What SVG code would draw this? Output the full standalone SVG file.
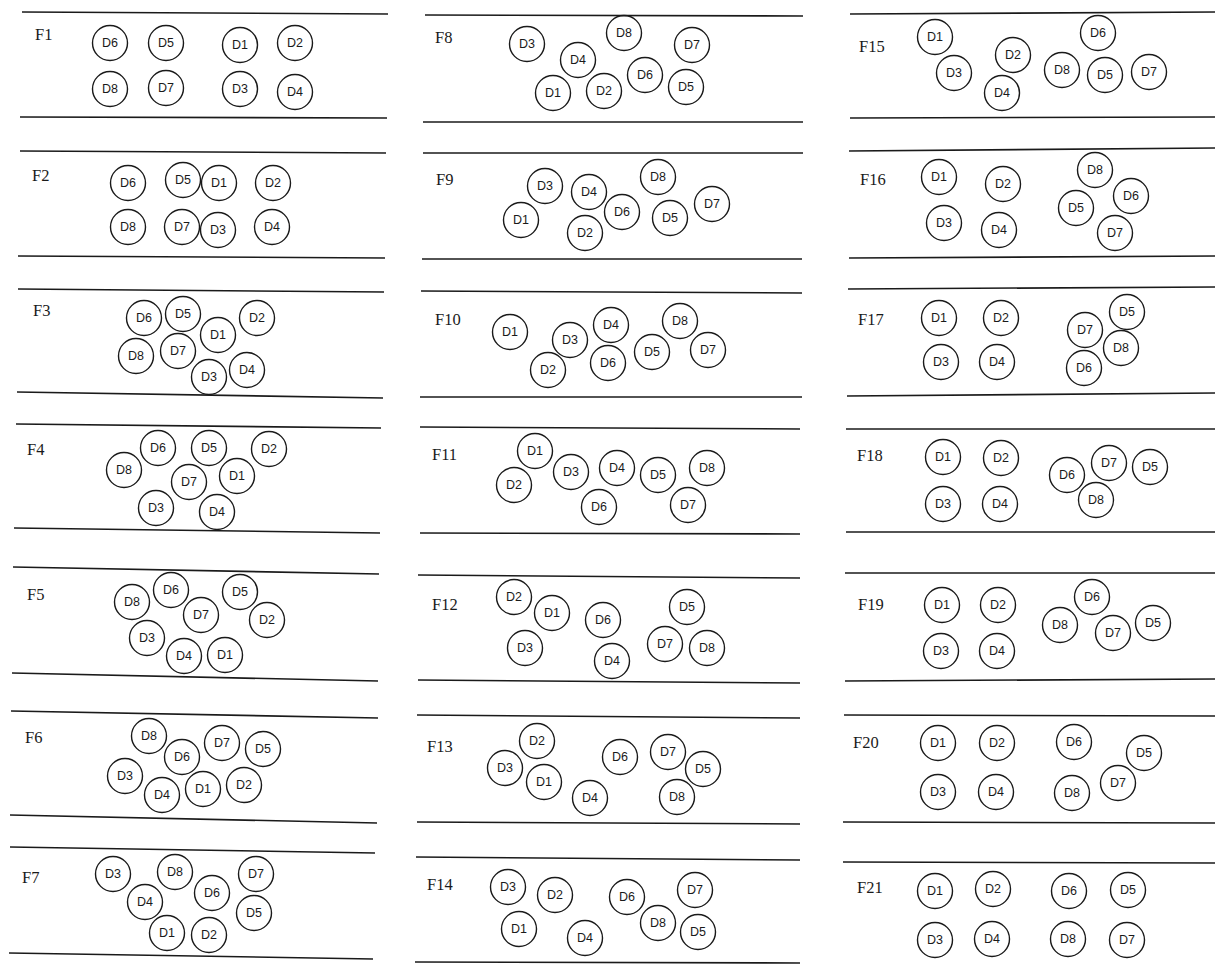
<svg xmlns="http://www.w3.org/2000/svg" width="1215" height="965" viewBox="0 0 1215 965">
<style>
.bg{fill:#fff}
.ln{stroke:#1a1a1a;stroke-width:1.6;fill:none}
circle{fill:none;stroke:#1a1a1a;stroke-width:1.4}
.d{font-family:"Liberation Sans",Arial,sans-serif;font-size:12.5px;text-anchor:middle;dominant-baseline:central;fill:#1a1a1a}
.f{font-family:"Liberation Serif","Times New Roman",serif;font-size:16.5px;fill:#1a1a1a}
</style>
<rect class="bg" x="0" y="0" width="1215" height="965"/>
<g id="lines">
<line class="ln" x1="22" y1="12" x2="388" y2="14"/>
<line class="ln" x1="20" y1="117" x2="387" y2="118"/>
<line class="ln" x1="20" y1="151" x2="386" y2="153"/>
<line class="ln" x1="18" y1="256" x2="385" y2="258"/>
<line class="ln" x1="18" y1="289" x2="384" y2="292"/>
<line class="ln" x1="17" y1="392" x2="383" y2="398"/>
<line class="ln" x1="16" y1="424" x2="381" y2="428"/>
<line class="ln" x1="14" y1="528" x2="380" y2="533"/>
<line class="ln" x1="13" y1="567" x2="379" y2="574"/>
<line class="ln" x1="12" y1="673" x2="378" y2="681"/>
<line class="ln" x1="11" y1="711" x2="378" y2="718"/>
<line class="ln" x1="10" y1="815" x2="377" y2="823"/>
<line class="ln" x1="10" y1="847" x2="375" y2="853"/>
<line class="ln" x1="9" y1="953" x2="373" y2="959"/>
<line class="ln" x1="425" y1="15" x2="803" y2="16"/>
<line class="ln" x1="423" y1="122" x2="803" y2="122"/>
<line class="ln" x1="423" y1="153" x2="803" y2="153"/>
<line class="ln" x1="422" y1="259" x2="802" y2="259"/>
<line class="ln" x1="421" y1="291" x2="802" y2="293"/>
<line class="ln" x1="420" y1="397" x2="802" y2="397"/>
<line class="ln" x1="420" y1="427" x2="800" y2="429"/>
<line class="ln" x1="420" y1="533" x2="800" y2="534"/>
<line class="ln" x1="418" y1="575" x2="800" y2="578"/>
<line class="ln" x1="418" y1="680" x2="800" y2="683"/>
<line class="ln" x1="417" y1="715" x2="800" y2="718"/>
<line class="ln" x1="417" y1="822" x2="800" y2="824"/>
<line class="ln" x1="416" y1="857" x2="800" y2="860"/>
<line class="ln" x1="415" y1="962" x2="800" y2="963"/>
<line class="ln" x1="850" y1="14" x2="1215" y2="12"/>
<line class="ln" x1="850" y1="118" x2="1215" y2="117"/>
<line class="ln" x1="849" y1="151" x2="1215" y2="148"/>
<line class="ln" x1="849" y1="258" x2="1215" y2="256"/>
<line class="ln" x1="848" y1="289" x2="1215" y2="287"/>
<line class="ln" x1="847" y1="396" x2="1215" y2="393"/>
<line class="ln" x1="846" y1="429" x2="1215" y2="429"/>
<line class="ln" x1="846" y1="532" x2="1215" y2="532"/>
<line class="ln" x1="845" y1="573" x2="1215" y2="573"/>
<line class="ln" x1="845" y1="681" x2="1215" y2="679"/>
<line class="ln" x1="844" y1="715" x2="1215" y2="716"/>
<line class="ln" x1="843" y1="822" x2="1215" y2="823"/>
<line class="ln" x1="843" y1="862" x2="1215" y2="863"/>
</g>
<g id="F1"><text class="f" x="35" y="40">F1</text>
<g id="F1-D6"><circle cx="110" cy="43" r="17.5"/><text class="d" x="110" y="43">D6</text></g>
<g id="F1-D5"><circle cx="166" cy="43" r="17.5"/><text class="d" x="166" y="43">D5</text></g>
<g id="F1-D1"><circle cx="240" cy="45" r="17.5"/><text class="d" x="240" y="45">D1</text></g>
<g id="F1-D2"><circle cx="295" cy="43" r="17.5"/><text class="d" x="295" y="43">D2</text></g>
<g id="F1-D8"><circle cx="110" cy="89" r="17.5"/><text class="d" x="110" y="89">D8</text></g>
<g id="F1-D7"><circle cx="166" cy="88" r="17.5"/><text class="d" x="166" y="88">D7</text></g>
<g id="F1-D3"><circle cx="240" cy="89" r="17.5"/><text class="d" x="240" y="89">D3</text></g>
<g id="F1-D4"><circle cx="295" cy="92" r="17.5"/><text class="d" x="295" y="92">D4</text></g>
</g>
<g id="F2"><text class="f" x="32" y="181">F2</text>
<g id="F2-D6"><circle cx="128" cy="183" r="17.5"/><text class="d" x="128" y="183">D6</text></g>
<g id="F2-D5"><circle cx="183" cy="180" r="17.5"/><text class="d" x="183" y="180">D5</text></g>
<g id="F2-D1"><circle cx="219" cy="183" r="17.5"/><text class="d" x="219" y="183">D1</text></g>
<g id="F2-D2"><circle cx="273" cy="183" r="17.5"/><text class="d" x="273" y="183">D2</text></g>
<g id="F2-D8"><circle cx="128" cy="227" r="17.5"/><text class="d" x="128" y="227">D8</text></g>
<g id="F2-D7"><circle cx="182" cy="227" r="17.5"/><text class="d" x="182" y="227">D7</text></g>
<g id="F2-D3"><circle cx="218" cy="230" r="17.5"/><text class="d" x="218" y="230">D3</text></g>
<g id="F2-D4"><circle cx="272" cy="227" r="17.5"/><text class="d" x="272" y="227">D4</text></g>
</g>
<g id="F3"><text class="f" x="33" y="316">F3</text>
<g id="F3-D6"><circle cx="144" cy="318" r="17.5"/><text class="d" x="144" y="318">D6</text></g>
<g id="F3-D5"><circle cx="183" cy="314" r="17.5"/><text class="d" x="183" y="314">D5</text></g>
<g id="F3-D1"><circle cx="218" cy="335" r="17.5"/><text class="d" x="218" y="335">D1</text></g>
<g id="F3-D2"><circle cx="257" cy="318" r="17.5"/><text class="d" x="257" y="318">D2</text></g>
<g id="F3-D8"><circle cx="136" cy="356" r="17.5"/><text class="d" x="136" y="356">D8</text></g>
<g id="F3-D7"><circle cx="178" cy="351" r="17.5"/><text class="d" x="178" y="351">D7</text></g>
<g id="F3-D3"><circle cx="209" cy="377" r="17.5"/><text class="d" x="209" y="377">D3</text></g>
<g id="F3-D4"><circle cx="247" cy="370" r="17.5"/><text class="d" x="247" y="370">D4</text></g>
</g>
<g id="F4"><text class="f" x="27" y="455">F4</text>
<g id="F4-D6"><circle cx="158" cy="448" r="17.5"/><text class="d" x="158" y="448">D6</text></g>
<g id="F4-D5"><circle cx="209" cy="448" r="17.5"/><text class="d" x="209" y="448">D5</text></g>
<g id="F4-D2"><circle cx="269" cy="449" r="17.5"/><text class="d" x="269" y="449">D2</text></g>
<g id="F4-D8"><circle cx="124" cy="470" r="17.5"/><text class="d" x="124" y="470">D8</text></g>
<g id="F4-D7"><circle cx="189" cy="482" r="17.5"/><text class="d" x="189" y="482">D7</text></g>
<g id="F4-D1"><circle cx="237" cy="476" r="17.5"/><text class="d" x="237" y="476">D1</text></g>
<g id="F4-D3"><circle cx="156" cy="508" r="17.5"/><text class="d" x="156" y="508">D3</text></g>
<g id="F4-D4"><circle cx="217" cy="512" r="17.5"/><text class="d" x="217" y="512">D4</text></g>
</g>
<g id="F5"><text class="f" x="27" y="600">F5</text>
<g id="F5-D8"><circle cx="132" cy="602" r="17.5"/><text class="d" x="132" y="602">D8</text></g>
<g id="F5-D6"><circle cx="171" cy="590" r="17.5"/><text class="d" x="171" y="590">D6</text></g>
<g id="F5-D7"><circle cx="201" cy="615" r="17.5"/><text class="d" x="201" y="615">D7</text></g>
<g id="F5-D5"><circle cx="240" cy="592" r="17.5"/><text class="d" x="240" y="592">D5</text></g>
<g id="F5-D2"><circle cx="267" cy="620" r="17.5"/><text class="d" x="267" y="620">D2</text></g>
<g id="F5-D3"><circle cx="147" cy="638" r="17.5"/><text class="d" x="147" y="638">D3</text></g>
<g id="F5-D4"><circle cx="184" cy="656" r="17.5"/><text class="d" x="184" y="656">D4</text></g>
<g id="F5-D1"><circle cx="225" cy="655" r="17.5"/><text class="d" x="225" y="655">D1</text></g>
</g>
<g id="F6"><text class="f" x="25" y="743">F6</text>
<g id="F6-D8"><circle cx="149" cy="736" r="17.5"/><text class="d" x="149" y="736">D8</text></g>
<g id="F6-D6"><circle cx="182" cy="757" r="17.5"/><text class="d" x="182" y="757">D6</text></g>
<g id="F6-D7"><circle cx="222" cy="743" r="17.5"/><text class="d" x="222" y="743">D7</text></g>
<g id="F6-D5"><circle cx="263" cy="749" r="17.5"/><text class="d" x="263" y="749">D5</text></g>
<g id="F6-D3"><circle cx="125" cy="776" r="17.5"/><text class="d" x="125" y="776">D3</text></g>
<g id="F6-D4"><circle cx="162" cy="795" r="17.5"/><text class="d" x="162" y="795">D4</text></g>
<g id="F6-D1"><circle cx="203" cy="789" r="17.5"/><text class="d" x="203" y="789">D1</text></g>
<g id="F6-D2"><circle cx="244" cy="785" r="17.5"/><text class="d" x="244" y="785">D2</text></g>
</g>
<g id="F7"><text class="f" x="22" y="883">F7</text>
<g id="F7-D3"><circle cx="113" cy="874" r="17.5"/><text class="d" x="113" y="874">D3</text></g>
<g id="F7-D8"><circle cx="175" cy="872" r="17.5"/><text class="d" x="175" y="872">D8</text></g>
<g id="F7-D7"><circle cx="256" cy="874" r="17.5"/><text class="d" x="256" y="874">D7</text></g>
<g id="F7-D4"><circle cx="145" cy="902" r="17.5"/><text class="d" x="145" y="902">D4</text></g>
<g id="F7-D6"><circle cx="212" cy="893" r="17.5"/><text class="d" x="212" y="893">D6</text></g>
<g id="F7-D5"><circle cx="254" cy="913" r="17.5"/><text class="d" x="254" y="913">D5</text></g>
<g id="F7-D1"><circle cx="167" cy="933" r="17.5"/><text class="d" x="167" y="933">D1</text></g>
<g id="F7-D2"><circle cx="209" cy="935" r="17.5"/><text class="d" x="209" y="935">D2</text></g>
</g>
<g id="F8"><text class="f" x="435" y="43">F8</text>
<g id="F8-D3"><circle cx="527" cy="44" r="17.5"/><text class="d" x="527" y="44">D3</text></g>
<g id="F8-D4"><circle cx="578" cy="60" r="17.5"/><text class="d" x="578" y="60">D4</text></g>
<g id="F8-D8"><circle cx="624" cy="33" r="17.5"/><text class="d" x="624" y="33">D8</text></g>
<g id="F8-D7"><circle cx="692" cy="45" r="17.5"/><text class="d" x="692" y="45">D7</text></g>
<g id="F8-D6"><circle cx="645" cy="75" r="17.5"/><text class="d" x="645" y="75">D6</text></g>
<g id="F8-D1"><circle cx="553" cy="93" r="17.5"/><text class="d" x="553" y="93">D1</text></g>
<g id="F8-D2"><circle cx="604" cy="91" r="17.5"/><text class="d" x="604" y="91">D2</text></g>
<g id="F8-D5"><circle cx="686" cy="87" r="17.5"/><text class="d" x="686" y="87">D5</text></g>
</g>
<g id="F9"><text class="f" x="436" y="185">F9</text>
<g id="F9-D3"><circle cx="545" cy="186" r="17.5"/><text class="d" x="545" y="186">D3</text></g>
<g id="F9-D4"><circle cx="589" cy="192" r="17.5"/><text class="d" x="589" y="192">D4</text></g>
<g id="F9-D8"><circle cx="658" cy="177" r="17.5"/><text class="d" x="658" y="177">D8</text></g>
<g id="F9-D7"><circle cx="712" cy="204" r="17.5"/><text class="d" x="712" y="204">D7</text></g>
<g id="F9-D1"><circle cx="521" cy="220" r="17.5"/><text class="d" x="521" y="220">D1</text></g>
<g id="F9-D6"><circle cx="622" cy="212" r="17.5"/><text class="d" x="622" y="212">D6</text></g>
<g id="F9-D5"><circle cx="670" cy="218" r="17.5"/><text class="d" x="670" y="218">D5</text></g>
<g id="F9-D2"><circle cx="585" cy="233" r="17.5"/><text class="d" x="585" y="233">D2</text></g>
</g>
<g id="F10"><text class="f" x="435" y="325">F10</text>
<g id="F10-D1"><circle cx="510" cy="332" r="17.5"/><text class="d" x="510" y="332">D1</text></g>
<g id="F10-D3"><circle cx="570" cy="340" r="17.5"/><text class="d" x="570" y="340">D3</text></g>
<g id="F10-D4"><circle cx="611" cy="325" r="17.5"/><text class="d" x="611" y="325">D4</text></g>
<g id="F10-D8"><circle cx="680" cy="321" r="17.5"/><text class="d" x="680" y="321">D8</text></g>
<g id="F10-D7"><circle cx="708" cy="350" r="17.5"/><text class="d" x="708" y="350">D7</text></g>
<g id="F10-D2"><circle cx="548" cy="370" r="17.5"/><text class="d" x="548" y="370">D2</text></g>
<g id="F10-D6"><circle cx="608" cy="363" r="17.5"/><text class="d" x="608" y="363">D6</text></g>
<g id="F10-D5"><circle cx="652" cy="352" r="17.5"/><text class="d" x="652" y="352">D5</text></g>
</g>
<g id="F11"><text class="f" x="432" y="460">F11</text>
<g id="F11-D1"><circle cx="535" cy="451" r="17.5"/><text class="d" x="535" y="451">D1</text></g>
<g id="F11-D3"><circle cx="571" cy="472" r="17.5"/><text class="d" x="571" y="472">D3</text></g>
<g id="F11-D4"><circle cx="617" cy="468" r="17.5"/><text class="d" x="617" y="468">D4</text></g>
<g id="F11-D5"><circle cx="658" cy="475" r="17.5"/><text class="d" x="658" y="475">D5</text></g>
<g id="F11-D8"><circle cx="707" cy="468" r="17.5"/><text class="d" x="707" y="468">D8</text></g>
<g id="F11-D2"><circle cx="514" cy="485" r="17.5"/><text class="d" x="514" y="485">D2</text></g>
<g id="F11-D6"><circle cx="599" cy="507" r="17.5"/><text class="d" x="599" y="507">D6</text></g>
<g id="F11-D7"><circle cx="688" cy="505" r="17.5"/><text class="d" x="688" y="505">D7</text></g>
</g>
<g id="F12"><text class="f" x="432" y="610">F12</text>
<g id="F12-D2"><circle cx="514" cy="597" r="17.5"/><text class="d" x="514" y="597">D2</text></g>
<g id="F12-D1"><circle cx="552" cy="613" r="17.5"/><text class="d" x="552" y="613">D1</text></g>
<g id="F12-D6"><circle cx="603" cy="620" r="17.5"/><text class="d" x="603" y="620">D6</text></g>
<g id="F12-D5"><circle cx="687" cy="607" r="17.5"/><text class="d" x="687" y="607">D5</text></g>
<g id="F12-D3"><circle cx="525" cy="648" r="17.5"/><text class="d" x="525" y="648">D3</text></g>
<g id="F12-D4"><circle cx="612" cy="661" r="17.5"/><text class="d" x="612" y="661">D4</text></g>
<g id="F12-D7"><circle cx="665" cy="644" r="17.5"/><text class="d" x="665" y="644">D7</text></g>
<g id="F12-D8"><circle cx="707" cy="648" r="17.5"/><text class="d" x="707" y="648">D8</text></g>
</g>
<g id="F13"><text class="f" x="427" y="752">F13</text>
<g id="F13-D2"><circle cx="537" cy="741" r="17.5"/><text class="d" x="537" y="741">D2</text></g>
<g id="F13-D3"><circle cx="505" cy="768" r="17.5"/><text class="d" x="505" y="768">D3</text></g>
<g id="F13-D1"><circle cx="544" cy="782" r="17.5"/><text class="d" x="544" y="782">D1</text></g>
<g id="F13-D6"><circle cx="620" cy="757" r="17.5"/><text class="d" x="620" y="757">D6</text></g>
<g id="F13-D7"><circle cx="668" cy="752" r="17.5"/><text class="d" x="668" y="752">D7</text></g>
<g id="F13-D5"><circle cx="703" cy="769" r="17.5"/><text class="d" x="703" y="769">D5</text></g>
<g id="F13-D4"><circle cx="590" cy="798" r="17.5"/><text class="d" x="590" y="798">D4</text></g>
<g id="F13-D8"><circle cx="677" cy="797" r="17.5"/><text class="d" x="677" y="797">D8</text></g>
</g>
<g id="F14"><text class="f" x="427" y="890">F14</text>
<g id="F14-D3"><circle cx="508" cy="887" r="17.5"/><text class="d" x="508" y="887">D3</text></g>
<g id="F14-D2"><circle cx="555" cy="895" r="17.5"/><text class="d" x="555" y="895">D2</text></g>
<g id="F14-D6"><circle cx="627" cy="897" r="17.5"/><text class="d" x="627" y="897">D6</text></g>
<g id="F14-D7"><circle cx="695" cy="890" r="17.5"/><text class="d" x="695" y="890">D7</text></g>
<g id="F14-D1"><circle cx="519" cy="929" r="17.5"/><text class="d" x="519" y="929">D1</text></g>
<g id="F14-D4"><circle cx="585" cy="938" r="17.5"/><text class="d" x="585" y="938">D4</text></g>
<g id="F14-D8"><circle cx="658" cy="923" r="17.5"/><text class="d" x="658" y="923">D8</text></g>
<g id="F14-D5"><circle cx="698" cy="932" r="17.5"/><text class="d" x="698" y="932">D5</text></g>
</g>
<g id="F15"><text class="f" x="859" y="52">F15</text>
<g id="F15-D1"><circle cx="935" cy="37" r="17.5"/><text class="d" x="935" y="37">D1</text></g>
<g id="F15-D3"><circle cx="954" cy="73" r="17.5"/><text class="d" x="954" y="73">D3</text></g>
<g id="F15-D2"><circle cx="1013" cy="55" r="17.5"/><text class="d" x="1013" y="55">D2</text></g>
<g id="F15-D6"><circle cx="1098" cy="33" r="17.5"/><text class="d" x="1098" y="33">D6</text></g>
<g id="F15-D8"><circle cx="1062" cy="70" r="17.5"/><text class="d" x="1062" y="70">D8</text></g>
<g id="F15-D5"><circle cx="1105" cy="75" r="17.5"/><text class="d" x="1105" y="75">D5</text></g>
<g id="F15-D7"><circle cx="1149" cy="72" r="17.5"/><text class="d" x="1149" y="72">D7</text></g>
<g id="F15-D4"><circle cx="1002" cy="93" r="17.5"/><text class="d" x="1002" y="93">D4</text></g>
</g>
<g id="F16"><text class="f" x="860" y="185">F16</text>
<g id="F16-D1"><circle cx="939" cy="177" r="17.5"/><text class="d" x="939" y="177">D1</text></g>
<g id="F16-D2"><circle cx="1003" cy="184" r="17.5"/><text class="d" x="1003" y="184">D2</text></g>
<g id="F16-D8"><circle cx="1095" cy="170" r="17.5"/><text class="d" x="1095" y="170">D8</text></g>
<g id="F16-D6"><circle cx="1131" cy="196" r="17.5"/><text class="d" x="1131" y="196">D6</text></g>
<g id="F16-D5"><circle cx="1076" cy="208" r="17.5"/><text class="d" x="1076" y="208">D5</text></g>
<g id="F16-D7"><circle cx="1115" cy="233" r="17.5"/><text class="d" x="1115" y="233">D7</text></g>
<g id="F16-D3"><circle cx="944" cy="223" r="17.5"/><text class="d" x="944" y="223">D3</text></g>
<g id="F16-D4"><circle cx="999" cy="230" r="17.5"/><text class="d" x="999" y="230">D4</text></g>
</g>
<g id="F17"><text class="f" x="858" y="325">F17</text>
<g id="F17-D1"><circle cx="939" cy="318" r="17.5"/><text class="d" x="939" y="318">D1</text></g>
<g id="F17-D2"><circle cx="1001" cy="318" r="17.5"/><text class="d" x="1001" y="318">D2</text></g>
<g id="F17-D5"><circle cx="1127" cy="312" r="17.5"/><text class="d" x="1127" y="312">D5</text></g>
<g id="F17-D7"><circle cx="1085" cy="330" r="17.5"/><text class="d" x="1085" y="330">D7</text></g>
<g id="F17-D8"><circle cx="1121" cy="348" r="17.5"/><text class="d" x="1121" y="348">D8</text></g>
<g id="F17-D3"><circle cx="941" cy="362" r="17.5"/><text class="d" x="941" y="362">D3</text></g>
<g id="F17-D4"><circle cx="997" cy="362" r="17.5"/><text class="d" x="997" y="362">D4</text></g>
<g id="F17-D6"><circle cx="1084" cy="368" r="17.5"/><text class="d" x="1084" y="368">D6</text></g>
</g>
<g id="F18"><text class="f" x="857" y="461">F18</text>
<g id="F18-D1"><circle cx="943" cy="457" r="17.5"/><text class="d" x="943" y="457">D1</text></g>
<g id="F18-D2"><circle cx="1001" cy="458" r="17.5"/><text class="d" x="1001" y="458">D2</text></g>
<g id="F18-D3"><circle cx="943" cy="504" r="17.5"/><text class="d" x="943" y="504">D3</text></g>
<g id="F18-D4"><circle cx="1000" cy="504" r="17.5"/><text class="d" x="1000" y="504">D4</text></g>
<g id="F18-D6"><circle cx="1067" cy="475" r="17.5"/><text class="d" x="1067" y="475">D6</text></g>
<g id="F18-D7"><circle cx="1109" cy="463" r="17.5"/><text class="d" x="1109" y="463">D7</text></g>
<g id="F18-D5"><circle cx="1150" cy="467" r="17.5"/><text class="d" x="1150" y="467">D5</text></g>
<g id="F18-D8"><circle cx="1096" cy="500" r="17.5"/><text class="d" x="1096" y="500">D8</text></g>
</g>
<g id="F19"><text class="f" x="858" y="610">F19</text>
<g id="F19-D1"><circle cx="942" cy="605" r="17.5"/><text class="d" x="942" y="605">D1</text></g>
<g id="F19-D2"><circle cx="998" cy="605" r="17.5"/><text class="d" x="998" y="605">D2</text></g>
<g id="F19-D6"><circle cx="1092" cy="597" r="17.5"/><text class="d" x="1092" y="597">D6</text></g>
<g id="F19-D8"><circle cx="1060" cy="625" r="17.5"/><text class="d" x="1060" y="625">D8</text></g>
<g id="F19-D7"><circle cx="1113" cy="633" r="17.5"/><text class="d" x="1113" y="633">D7</text></g>
<g id="F19-D5"><circle cx="1153" cy="623" r="17.5"/><text class="d" x="1153" y="623">D5</text></g>
<g id="F19-D3"><circle cx="941" cy="651" r="17.5"/><text class="d" x="941" y="651">D3</text></g>
<g id="F19-D4"><circle cx="997" cy="651" r="17.5"/><text class="d" x="997" y="651">D4</text></g>
</g>
<g id="F20"><text class="f" x="853" y="748">F20</text>
<g id="F20-D1"><circle cx="938" cy="743" r="17.5"/><text class="d" x="938" y="743">D1</text></g>
<g id="F20-D2"><circle cx="997" cy="743" r="17.5"/><text class="d" x="997" y="743">D2</text></g>
<g id="F20-D6"><circle cx="1074" cy="742" r="17.5"/><text class="d" x="1074" y="742">D6</text></g>
<g id="F20-D5"><circle cx="1144" cy="753" r="17.5"/><text class="d" x="1144" y="753">D5</text></g>
<g id="F20-D3"><circle cx="938" cy="792" r="17.5"/><text class="d" x="938" y="792">D3</text></g>
<g id="F20-D4"><circle cx="996" cy="792" r="17.5"/><text class="d" x="996" y="792">D4</text></g>
<g id="F20-D8"><circle cx="1072" cy="793" r="17.5"/><text class="d" x="1072" y="793">D8</text></g>
<g id="F20-D7"><circle cx="1118" cy="783" r="17.5"/><text class="d" x="1118" y="783">D7</text></g>
</g>
<g id="F21"><text class="f" x="857" y="893">F21</text>
<g id="F21-D1"><circle cx="935" cy="891" r="17.5"/><text class="d" x="935" y="891">D1</text></g>
<g id="F21-D2"><circle cx="993" cy="889" r="17.5"/><text class="d" x="993" y="889">D2</text></g>
<g id="F21-D6"><circle cx="1069" cy="891" r="17.5"/><text class="d" x="1069" y="891">D6</text></g>
<g id="F21-D5"><circle cx="1128" cy="890" r="17.5"/><text class="d" x="1128" y="890">D5</text></g>
<g id="F21-D3"><circle cx="935" cy="940" r="17.5"/><text class="d" x="935" y="940">D3</text></g>
<g id="F21-D4"><circle cx="992" cy="939" r="17.5"/><text class="d" x="992" y="939">D4</text></g>
<g id="F21-D8"><circle cx="1068" cy="939" r="17.5"/><text class="d" x="1068" y="939">D8</text></g>
<g id="F21-D7"><circle cx="1127" cy="940" r="17.5"/><text class="d" x="1127" y="940">D7</text></g>
</g>
</svg>
